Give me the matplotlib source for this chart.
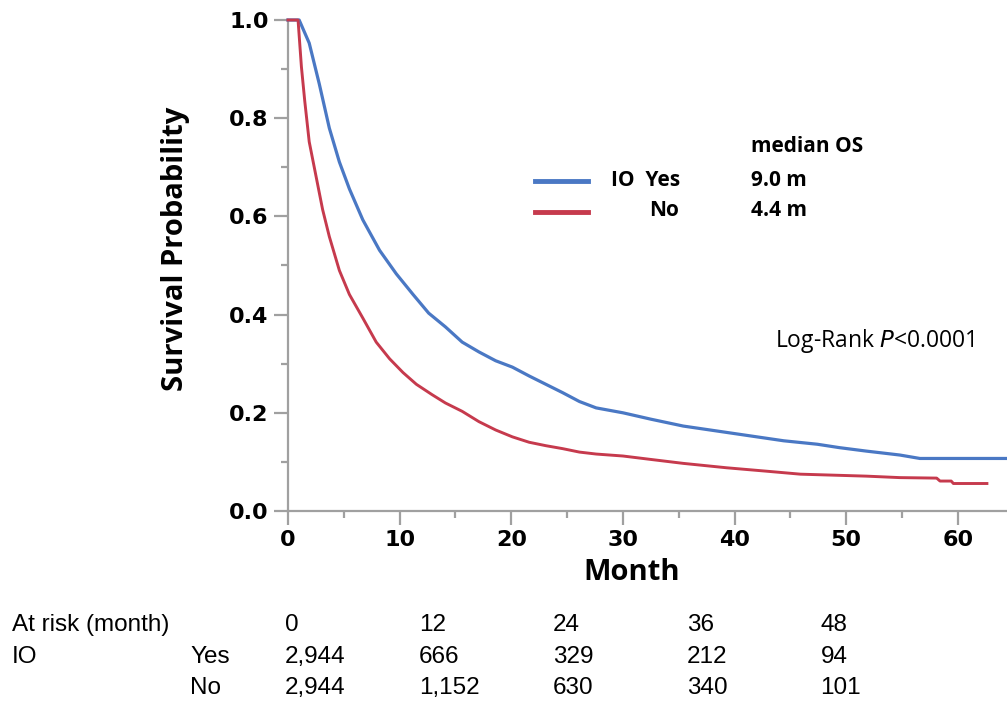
import matplotlib
matplotlib.use("Agg")
import matplotlib.pyplot as plt
import matplotlib.transforms as mtransforms
import numpy as np

# Kaplan-Meier curves (month, survival)
io_yes_month = [0, 1.0, 1.9, 2.8, 3.7, 4.6, 5.5, 6.7, 8.2, 9.7, 11.2, 12.6, 14.1, 15.6,
                17.1, 18.6, 20.1, 21.6, 23.1, 24.6, 26.1, 27.6, 30.0, 32.5, 35.4, 38.4,
                41.4, 44.4, 47.4, 49.4, 51.8, 54.8, 56.6, 64.4]
io_yes_surv = [1.0, 1.0, 0.953, 0.87, 0.78, 0.711, 0.656, 0.593, 0.531, 0.483, 0.441, 0.403,
               0.375, 0.344, 0.324, 0.306, 0.293, 0.275, 0.258, 0.241, 0.223, 0.21, 0.2,
               0.187, 0.173, 0.163, 0.153, 0.143, 0.136, 0.129, 0.122, 0.114, 0.107, 0.107]

io_no_month = [0, 0.9, 1.2, 1.5, 1.9, 2.5, 3.1, 3.7, 4.6, 5.5, 6.7, 7.9, 9.1, 10.3, 11.5,
               12.9, 14.1, 15.6, 17.1, 18.6, 20.1, 21.6, 23.1, 24.6, 26.1, 27.6, 30.0, 32.5,
               35.4, 39.3, 42.9, 45.9, 51.8, 54.8, 58.1, 58.4, 59.4, 59.6, 62.6]
io_no_surv = [1.0, 1.0, 0.905, 0.835, 0.752, 0.683, 0.614, 0.559, 0.49, 0.441, 0.393, 0.344,
              0.31, 0.282, 0.258, 0.237, 0.22, 0.203, 0.182, 0.165, 0.151, 0.14, 0.133, 0.127,
              0.12, 0.116, 0.112, 0.105, 0.097, 0.088, 0.081, 0.075, 0.071, 0.068, 0.067,
              0.061, 0.061, 0.056, 0.056]

risk_months = [0, 12, 24, 36, 48]
risk_yes = ["2,944", "666", "329", "212", "94"]
risk_no = ["2,944", "1,152", "630", "340", "101"]

median_yes = "9.0 m"
median_no = "4.4 m"

blue = "#4a78c4"
red = "#c63a4d"
grey = "#a0a0a0"

W, H = 1007, 703
fig = plt.figure(figsize=(W / 100, H / 100), dpi=100)
ax = fig.add_axes([288 / W, 1 - 511 / H, (W - 288) / W, (511 - 20) / H])

ax.plot(io_yes_month, io_yes_surv, color=blue, lw=2.3, clip_on=False, zorder=3)
ax.plot(io_no_month, io_no_surv, color=red, lw=2.1, clip_on=False, zorder=3)

ax.set_xlim(0, 64.4)
ax.set_ylim(0, 1.0)
ax.set_xticks(np.arange(0, 61, 10))
ax.set_xticks(np.arange(5, 61, 10), minor=True)
ax.set_yticks(np.arange(0, 1.01, 0.2))
ax.set_yticks(np.arange(0.1, 1.0, 0.2), minor=True)
ax.set_yticklabels(["0.0", "0.2", "0.4", "0.6", "0.8", "1.0"])

for s in ["top", "right"]:
    ax.spines[s].set_visible(False)
for s in ["left", "bottom"]:
    ax.spines[s].set_color(grey)
    ax.spines[s].set_linewidth(1.6)

ax.tick_params(which="major", length=10, width=1.6, color=grey, labelsize=16, pad=4)
ax.tick_params(which="minor", length=5, width=1.6, color=grey)
for lab in ax.get_xticklabels() + ax.get_yticklabels():
    lab.set_fontweight("bold")
    lab.set_fontfamily("DejaVu Sans")


def ptext(x, y, s, **kw):
    fig.text(x / W, 1 - y / H, s, va="center", **kw)


label_font = dict(fontsize=21, fontweight="bold", family="Open Sans")
ptext(175, 249, "Survival Probability", rotation=90, ha="center", **label_font)
ptext(632, 573, "Month", ha="center", **label_font)

# legend block
legend_font = dict(fontsize=15, fontweight="bold", family="Open Sans")
fig.add_artist(plt.Line2D([535 / W, 588 / W], [1 - 181 / H, 1 - 181 / H], color=blue, lw=3.5))
fig.add_artist(plt.Line2D([535 / W, 588 / W], [1 - 212 / H, 1 - 212 / H], color=red, lw=3.5))
ptext(751, 147, "median OS", **legend_font)
ptext(611, 180, "IO  Yes", **legend_font)
ptext(649, 211, "No", **legend_font)
ptext(751, 180, median_yes, **legend_font)
ptext(751, 211, median_no, **legend_font)

ptext(775, 341, "Log-Rank $\\it{P}$<0.0001", fontsize=16.5, family="Open Sans")

# at-risk table
table_font = dict(fontsize=17.5, family="Liberation Sans")
ptext(12, 625, "At risk (month)", **table_font)
ptext(12, 657, "IO", **table_font)
ptext(190, 657, "Yes", **table_font)
ptext(190, 688, "No", **table_font)

trans = mtransforms.blended_transform_factory(ax.transData, fig.transFigure)
for m, a, b in zip(risk_months, risk_yes, risk_no):
    xm = m - 0.3
    fig.text(xm, 1 - 625 / H, str(m), transform=trans, va="center", ha="left", **table_font)
    fig.text(xm, 1 - 657 / H, a, transform=trans, va="center", ha="left", **table_font)
    fig.text(xm, 1 - 688 / H, b, transform=trans, va="center", ha="left", **table_font)

fig.savefig("out.png", dpi=100)
